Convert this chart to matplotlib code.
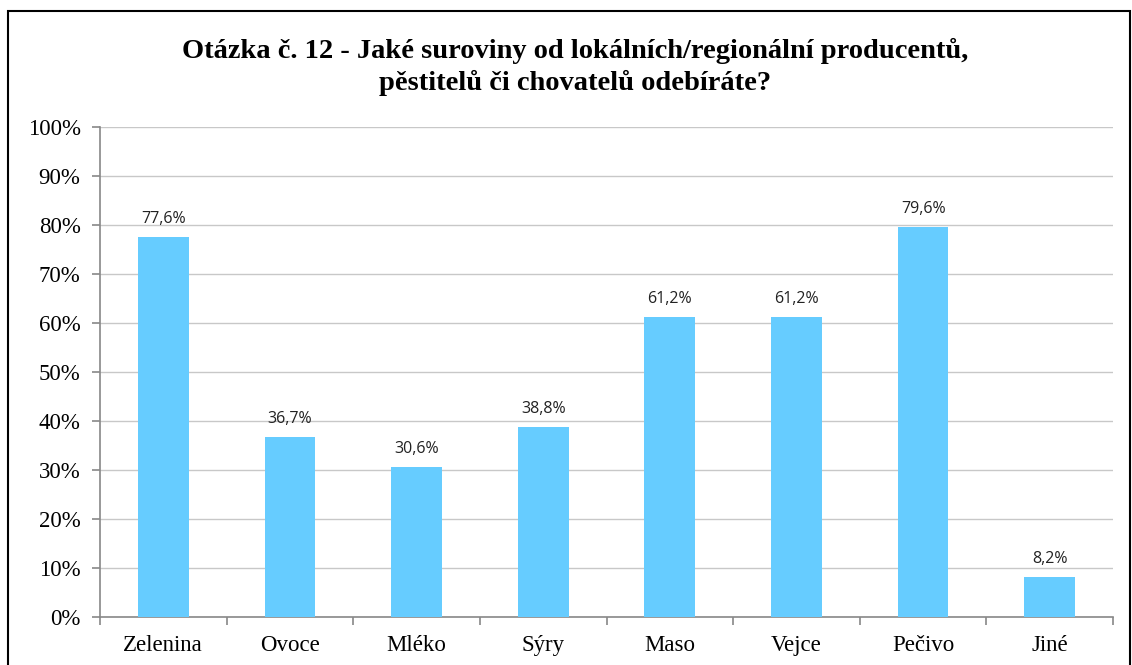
import numpy as np
import matplotlib.pyplot as plt
from matplotlib.patches import Rectangle

categories = ['Zelenina', 'Ovoce', 'Mléko', 'Sýry', 'Maso', 'Vejce', 'Pečivo', 'Jiné']
values = [77.6, 36.7, 30.6, 38.8, 61.2, 61.2, 79.6, 8.2]
labels = ['77,6%', '36,7%', '30,6%', '38,8%', '61,2%', '61,2%', '79,6%', '8,2%']
title = 'Otázka č. 12 - Jaké suroviny od lokálních/regionální producentů,\npěstitelů či chovatelů odebíráte?'

fig = plt.figure(figsize=(11.32, 6.65), dpi=100)
ax = fig.add_axes([100/1132, 48/665, 1013/1132, 490/665])

x = np.arange(len(categories))
ax.bar(x, values, width=0.4, color='#66CCFF', zorder=3)
for xi, v, lab in zip(x, values, labels):
    ax.text(xi, v + 2.0, lab, ha='center', va='bottom', fontsize=11.5,
            family='Open Sans', color='#222222')

ax.set_xlim(-0.5, len(categories) - 0.5)
ax.set_ylim(0, 100)
ax.set_yticks(np.arange(0, 101, 10))
ax.set_yticklabels([f'{t}%' for t in range(0, 101, 10)], family='Liberation Serif', fontsize=16.5)
ax.set_xticks(x)
ax.set_xticklabels(categories, family='Liberation Serif', fontsize=16.5)
ax.set_xticks(np.arange(-0.5, len(categories)), minor=True)
ax.tick_params(axis='x', which='major', length=0, pad=13)
ax.tick_params(axis='x', which='minor', length=6, color='#888888', width=1.2)
ax.tick_params(axis='y', length=6, color='#888888', width=1.2, pad=8)
ax.grid(axis='y', color='#c8c8c8', lw=1, zorder=0)
for s in ['top', 'right']:
    ax.spines[s].set_visible(False)
for s in ['left', 'bottom']:
    ax.spines[s].set_color('#888888')
    ax.spines[s].set_linewidth(1.2)

fig.text(575/1132, 1 - 67/665, title, ha='center', va='center', fontsize=20.5,
         fontweight='bold', family='Liberation Serif', linespacing=1.3)

fig.patches.append(Rectangle((8/1132, -0.05), 1122/1132, 1 - 11/665 + 0.05,
                             transform=fig.transFigure, fill=False,
                             edgecolor='black', lw=1.5))

fig.savefig('out.png', dpi=100)
